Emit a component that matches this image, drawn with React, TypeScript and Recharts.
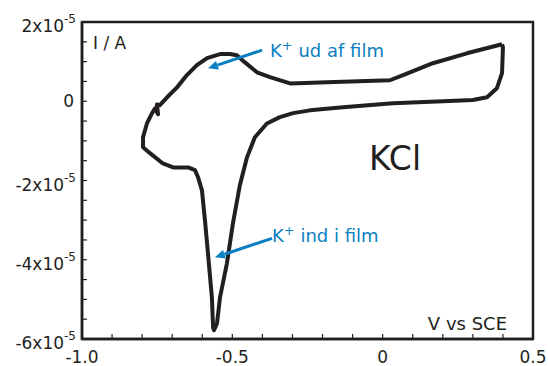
import React from 'react'
import { LineChart, Line, XAxis, YAxis, ReferenceLine } from 'recharts'

// potential vs SCE (V), current in units of 1e-5 A, in scan order
const volts = [
    0.397, 0.280, 0.167, 0.068, 0.024, -0.185, -0.308, -0.375, -0.418, -0.458,
    -0.485, -0.508, -0.541, -0.584, -0.618, -0.651, -0.684, -0.717, -0.741, -0.751,
    -0.747, -0.757, -0.767, -0.784, -0.797, -0.797, -0.774, -0.731, -0.697, -0.647,
    -0.624, -0.614, -0.601, -0.591, -0.581, -0.568, -0.564, -0.561, -0.551, -0.541,
    -0.518, -0.498, -0.475, -0.451, -0.425, -0.385, -0.342, -0.298, -0.242, -0.132,
    0.034, 0.201, 0.300, 0.347, 0.380, 0.397, 0.400, 0.397,
]
const current = [
    1.44, 1.21, 0.96, 0.66, 0.53, 0.48, 0.45, 0.61, 0.73, 0.98,
    1.16, 1.19, 1.19, 1.09, 0.91, 0.66, 0.35, 0.10, -0.10, -0.08,
    -0.33, -0.18, -0.30, -0.56, -0.91, -1.16, -1.31, -1.57, -1.67, -1.67,
    -1.74, -1.92, -2.25, -3.01, -3.84, -4.95, -5.71, -5.78, -5.61, -4.95,
    -4.09, -3.08, -2.12, -1.41, -0.91, -0.56, -0.40, -0.30, -0.23, -0.15,
    -0.05, 0.00, 0.03, 0.10, 0.33, 0.71, 1.36, 1.44,
]

const xTicks = [-1.0, -0.9, -0.8, -0.7, -0.6, -0.5, -0.4, -0.3, -0.2, -0.1, 0, 0.1, 0.2, 0.3, 0.4, 0.5]
const xLabels: Record<string, string> = { '-1': '-1.0', '-0.5': '-0.5', '0': '0', '0.5': '0.5' }
const yTicks = [-6, -5.5, -5, -4.5, -4, -3.5, -3, -2.5, -2, -1.5, -1, -0.5, 0, 0.5, 1, 1.5, 2]
const yLabels: Record<string, string> = { '-6': '-6', '-4': '-4', '-2': '-2', '0': '0', '2': '2' }

// arrows: [tail, head] in (V, 1e-5 A)
const arrowOut = [{ x: -0.401, y: 1.29 }, { x: -0.581, y: 0.83 }]
const arrowIn = [{ x: -0.368, y: -3.46 }, { x: -0.558, y: -3.94 }]

const data = volts.map((v, k) => ({ v, i: current[k] }))

const INK = '#231f20'
const BLUE = '#0b7fc1'
const FONT = '"DejaVu Sans", sans-serif'
const LEFT = 82
const RIGHT = 533
const TOP = 22
const BOTTOM = 339
const TICK = 5

const YTickLeft = (props: any) => {
    const { y, payload } = props
    const lab = yLabels[String(payload.value)]
    return (
        <g>
            <line x1={LEFT} x2={LEFT + TICK} y1={y} y2={y} stroke={INK} strokeWidth={1.2} />
            {lab !== undefined && (lab === '0' ? (
                <text x={LEFT - 8} y={y + 6} textAnchor="end" fontSize={17} fill={INK} fontFamily={FONT}>0</text>
            ) : (
                <text x={LEFT - 6} y={y + 10} textAnchor="end" fontSize={17} fill={INK} fontFamily={FONT}>
                    {lab}x10<tspan dy={-9} fontSize={12}>-5</tspan>
                </text>
            ))}
        </g>
    )
}

const YTickRight = (props: any) => {
    const { y } = props
    return <line x1={RIGHT - TICK} x2={RIGHT} y1={y} y2={y} stroke={INK} strokeWidth={1.2} />
}

const XTickBottom = (props: any) => {
    const { x, payload } = props
    const lab = xLabels[String(payload.value)]
    return (
        <g>
            <line x1={x} x2={x} y1={BOTTOM - TICK} y2={BOTTOM} stroke={INK} strokeWidth={1.2} />
            {lab !== undefined && (
                <text x={x} y={363} textAnchor="middle" fontSize={17} fill={INK} fontFamily={FONT}>{lab}</text>
            )}
        </g>
    )
}

const XTickTop = (props: any) => {
    const { x } = props
    return <line x1={x} x2={x} y1={TOP} y2={TOP + TICK} stroke={INK} strokeWidth={1.2} />
}

const Arrow = (props: any) => {
    const { x1, y1, x2, y2 } = props
    const dx = x2 - x1
    const dy = y2 - y1
    const len = Math.sqrt(dx * dx + dy * dy)
    const ux = dx / len
    const uy = dy / len
    const hl = 10
    const hw = 4.5
    const bx = x2 - ux * hl
    const by = y2 - uy * hl
    const pts = `${x2},${y2} ${bx - uy * hw},${by + ux * hw} ${bx + uy * hw},${by - ux * hw}`
    return (
        <g>
            <line x1={x1} y1={y1} x2={bx} y2={by} stroke={BLUE} strokeWidth={3} />
            <polygon points={pts} fill={BLUE} />
        </g>
    )
}

export default function App() {
    return (
        <div style={{ position: 'absolute', left: 0, top: 0, width: 548, height: 366, background: '#fff' }}>
            <LineChart
                width={548}
                height={366}
                data={data}
                margin={{ top: TOP, right: 548 - RIGHT, bottom: 0, left: 0 }}
            >
                <XAxis
                    xAxisId="b"
                    type="number"
                    dataKey="v"
                    domain={[-1, 0.5]}
                    ticks={xTicks}
                    interval={0}
                    height={366 - BOTTOM}
                    axisLine={{ stroke: INK, strokeWidth: 2.5 }}
                    tickLine={false}
                    tick={<XTickBottom />}
                />
                <XAxis
                    xAxisId="t"
                    orientation="top"
                    type="number"
                    dataKey="v"
                    domain={[-1, 0.5]}
                    ticks={xTicks}
                    interval={0}
                    height={0}
                    axisLine={{ stroke: INK, strokeWidth: 2.5 }}
                    tickLine={false}
                    tick={<XTickTop />}
                />
                <YAxis
                    yAxisId="l"
                    type="number"
                    dataKey="i"
                    domain={[-6, 2]}
                    ticks={yTicks}
                    interval={0}
                    width={LEFT}
                    axisLine={{ stroke: INK, strokeWidth: 2.5 }}
                    tickLine={false}
                    tick={<YTickLeft />}
                />
                <YAxis
                    yAxisId="r"
                    orientation="right"
                    type="number"
                    dataKey="i"
                    domain={[-6, 2]}
                    ticks={yTicks}
                    interval={0}
                    width={0}
                    axisLine={{ stroke: INK, strokeWidth: 2.5 }}
                    tickLine={false}
                    tick={<YTickRight />}
                />
                <Line
                    xAxisId="b"
                    yAxisId="l"
                    type="linear"
                    dataKey="i"
                    stroke={INK}
                    strokeWidth={4}
                    strokeLinejoin="round"
                    dot={false}
                    isAnimationActive={false}
                />
                <ReferenceLine xAxisId="b" yAxisId="l" segment={arrowOut} shape={<Arrow />} />
                <ReferenceLine xAxisId="b" yAxisId="l" segment={arrowIn} shape={<Arrow />} />
            </LineChart>
            <svg width={548} height={366} style={{ position: 'absolute', left: 0, top: 0, pointerEvents: 'none' }}>
                <rect x={LEFT} y={TOP} width={RIGHT - LEFT} height={BOTTOM - TOP} fill="none" stroke={INK} strokeWidth={2.5} />
                <g fontFamily={FONT}>
                    <text x={93} y={49} fontSize={17} fill={INK}>I / A</text>
                    <text x={507} y={330} fontSize={18} fill={INK} textAnchor="end">V vs SCE</text>
                    <text x={369} y={170} fontSize={33} fill={INK}>KCl</text>
                    <text x={270} y={57} fontSize={18} fill={BLUE}>K<tspan dy={-7} fontSize={13}>+</tspan><tspan dy={7}> ud af film</tspan></text>
                    <text x={272} y={242} fontSize={18} fill={BLUE}>K<tspan dy={-7} fontSize={13}>+</tspan><tspan dy={7}> ind i film</tspan></text>
                </g>
            </svg>
        </div>
    )
}
